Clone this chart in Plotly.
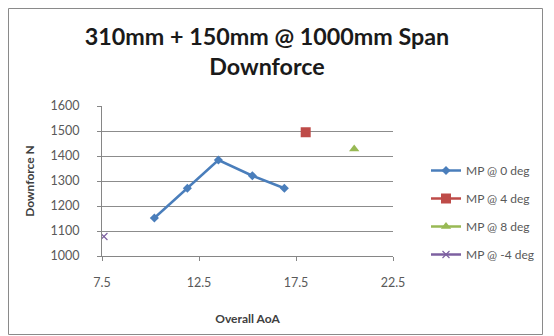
import plotly.graph_objects as go

series_names = ["MP @ 0 deg", "MP @ 4 deg", "MP @ 8 deg", "MP @ -4 deg"]
aoa_0 = [10.2, 11.9, 13.5, 15.25, 16.9]
df_0 = [1152, 1271, 1384, 1321, 1271]
aoa_4 = [18.0]
df_4 = [1495]
aoa_8 = [20.5]
df_8 = [1428]
aoa_m4 = [7.6]
df_m4 = [1078]
x_ticks = [7.5, 12.5, 17.5, 22.5]
y_ticks = [1000, 1100, 1200, 1300, 1400, 1500, 1600]

colors = ["#4A7EBB", "#BE4B48", "#98B954", "#7D60A0"]
symbols = ["diamond", "square", "triangle-up", "x-thin"]
xs = [aoa_0, aoa_4, aoa_8, aoa_m4]
ys = [df_0, df_4, df_8, df_m4]

OFF = 8  # page body margin
W, H = 554 - OFF, 336 - OFF
L, R, T, B = 102 - OFF, 161, 106 - OFF, 80

fig = go.Figure()
for i in range(4):
    msize = [7, 10, 9, 7][i]
    fig.add_trace(go.Scatter(
        x=xs[i], y=ys[i], name=series_names[i], mode="lines+markers",
        legendgroup=str(i),
        line=dict(color=colors[i], width=2.5),
        marker=dict(symbol=symbols[i], size=msize, color=colors[i],
                    line=dict(color=colors[i], width=1.2 if i == 3 else 0)),
    ))

def px(x):
    return (x - OFF - L) / (W - L - R)

def py(y):
    return (H - B - (y - OFF)) / (H - T - B)

fig.add_shape(type="rect", xref="paper", yref="paper",
              x0=px(8.5), x1=px(542.5), y0=py(334.5), y1=py(8.5),
              line=dict(color="#8a8a8a", width=1), fillcolor="rgba(0,0,0,0)", layer="below")

font_family = "Lato, 'Open Sans', sans-serif"
fig.update_layout(
    width=W, height=H,
    margin=dict(l=L, r=R, t=T, b=B),
    paper_bgcolor="white", plot_bgcolor="white",
    font=dict(family=font_family, color="#595959", size=12.5),
    title=dict(text="<b>310mm + 150mm @ 1000mm Span<br>Downforce</b>",
               x=px(267), xanchor="center", xref="paper",
               y=1 - 37 / H, yanchor="middle",
               font=dict(size=23.3, color="#1a1a1a", family=font_family)),
    showlegend=True,
    legend=dict(x=px(426), y=py(156), xanchor="left", yanchor="top",
                traceorder="grouped", tracegroupgap=9,
                font=dict(size=12, color="#595959"), bgcolor="rgba(0,0,0,0)",
                itemwidth=30),
    xaxis=dict(range=[7.5, 22.5], tickvals=x_ticks, ticktext=["7.5", "12.5", "17.5", "22.5"],
               showgrid=False, zeroline=False, showline=True, linecolor="#868686", linewidth=1,
               ticks="outside", ticklen=4, tickcolor="#868686", ticklabelstandoff=11,
               tickfont=dict(size=12.5, color="#595959"),
               title=dict(text="<b>Overall AoA</b>", font=dict(size=12, color="#404040"), standoff=25)),
    yaxis=dict(range=[1000, 1600], tickvals=y_ticks,
               showgrid=True, gridcolor="#8c8c8c", gridwidth=1, zeroline=False,
               showline=True, linecolor="#868686", linewidth=1,
               ticks="outside", ticklen=4, tickcolor="#868686", ticklabelstandoff=15,
               tickfont=dict(size=12.5, color="#595959"),
               title=dict(text="<b>Downforce N</b>", font=dict(size=12, color="#404040"), standoff=13)),
)

fig.write_html("out.html")
